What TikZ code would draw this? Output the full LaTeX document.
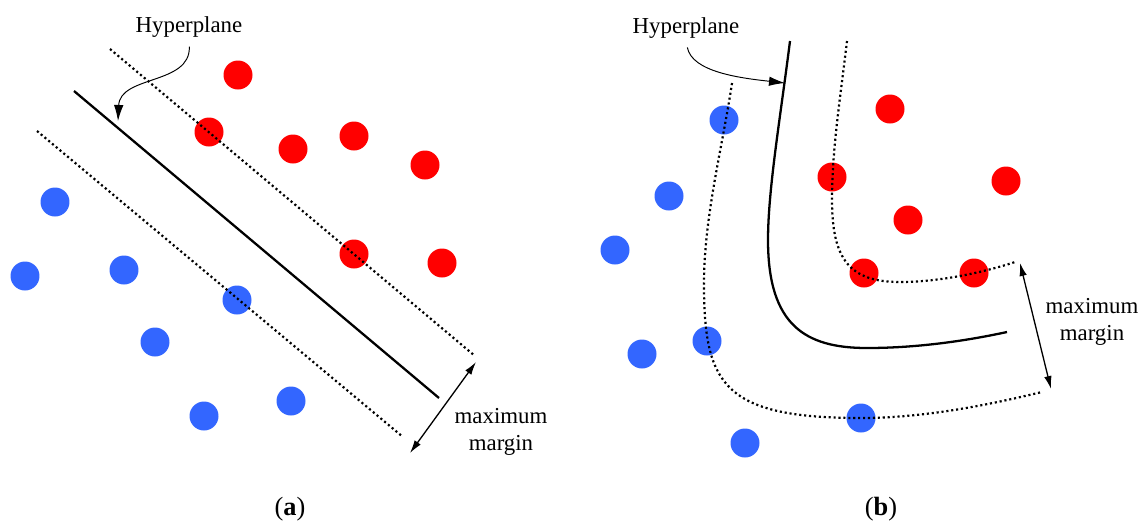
\documentclass[tikz,border=0pt]{standalone}
\usepackage{fontspec}
\setmainfont{Liberation Serif}
\usepackage{tikz}
\usetikzlibrary{arrows.meta}
\definecolor{SvmRed}{HTML}{FF0000}
\definecolor{SvmBlue}{HTML}{3366FF}
\tikzset{
  reddot/.style={circle,fill=SvmRed,inner sep=0pt,minimum size=5.8mm},
  bluedot/.style={circle,fill=SvmBlue,inner sep=0pt,minimum size=5.8mm},
  hypline/.style={line width=1.3pt,draw=black},
  marginline/.style={line width=1.25pt,dash pattern=on 1.2pt off 1.6pt},
  pointer/.style={-{Latex[length=3.2mm,width=1.9mm]},line width=0.55pt,shorten <=4pt},
  marginarrow/.style={{Latex[length=2.6mm,width=1.5mm]}-{Latex[length=2.6mm,width=1.5mm]},line width=0.75pt},
  lbl/.style={font=\fontsize{13}{15}\selectfont,align=center,inner sep=1pt},
  sublbl/.style={font=\fontsize{15}{17}\selectfont,inner sep=1pt}
}

\begin{document}
\begin{tikzpicture}[x=0.02cm,y=-0.02cm]
\useasboundingbox (0,0) rectangle (1141,522);

% (a) linear case
\node[reddot] (ra1) at (238,75) {};
\node[reddot] (ra2) at (209,132) {};
\node[reddot] (ra3) at (293,149) {};
\node[reddot] (ra4) at (354,136) {};
\node[reddot] (ra5) at (425,165) {};
\node[reddot] (ra6) at (354,254) {};
\node[reddot] (ra7) at (442,263) {};
\node[bluedot] (ba1) at (55,202) {};
\node[bluedot] (ba2) at (25,276) {};
\node[bluedot] (ba3) at (124,270) {};
\node[bluedot] (ba4) at (237,300) {};
\node[bluedot] (ba5) at (155,342) {};
\node[bluedot] (ba6) at (204,416) {};
\node[bluedot] (ba7) at (291,401) {};

\draw[hypline] (74,91) -- (439,398);
\draw[marginline] (110,49) -- (475,356);
\draw[marginline] (37,131) -- (403,437);

\node[lbl] (hypA) at (189,27) {Hyperplane};
\coordinate (tipA) at (118,121);
\draw[pointer] (hypA.south) .. controls (191,85) and (120,75) .. (tipA);

\coordinate (mA1) at (410,453);
\coordinate (mA2) at (476,362);
\draw[marginarrow] (mA1) -- (mA2);
\node[lbl] (marA) at (501,432) {maximum\\margin};

\node[sublbl] (capA) at (290,509) {(\textbf{a})};

% (b) nonlinear case
\node[reddot] (rb1) at (890,109) {};
\node[reddot] (rb2) at (832,177) {};
\node[reddot] (rb3) at (1006,181) {};
\node[reddot] (rb4) at (908,220) {};
\node[reddot] (rb5) at (864,273) {};
\node[reddot] (rb6) at (974,273) {};
\node[bluedot] (bb1) at (724,120) {};
\node[bluedot] (bb2) at (669,196) {};
\node[bluedot] (bb3) at (615,250) {};
\node[bluedot] (bb4) at (642,354) {};
\node[bluedot] (bb5) at (707,341) {};
\node[bluedot] (bb6) at (861,418) {};
\node[bluedot] (bb7) at (745,443) {};

\draw[hypline] (790,41) .. controls (780,120) and (768,190) .. (768,240)
  .. controls (768,325) and (805,348) .. (867,348)
  .. controls (920,348) and (970,340) .. (1007,332);
\draw[marginline] (847,41) .. controls (840,100) and (832,150) .. (832,200)
  .. controls (832,260) and (850,282) .. (900,282)
  .. controls (940,282) and (985,272) .. (1015,262);
\draw[marginline] (732,83) .. controls (722,150) and (703,220) .. (704,290)
  .. controls (705,385) and (725,418) .. (861,418)
  .. controls (930,418) and (1000,402) .. (1042,392);

\node[lbl] (hypB) at (686,28) {Hyperplane};
\coordinate (tipB) at (785,83);
\draw[pointer] (hypB.south) .. controls (692,72) and (740,78) .. (tipB);

\coordinate (mB1) at (1020,263);
\coordinate (mB2) at (1051,389);
\draw[marginarrow] (mB1) -- (mB2);
\node[lbl] (marB) at (1092,322) {maximum\\margin};

\node[sublbl] (capB) at (881,509) {(\textbf{b})};
\end{tikzpicture}
\end{document}
